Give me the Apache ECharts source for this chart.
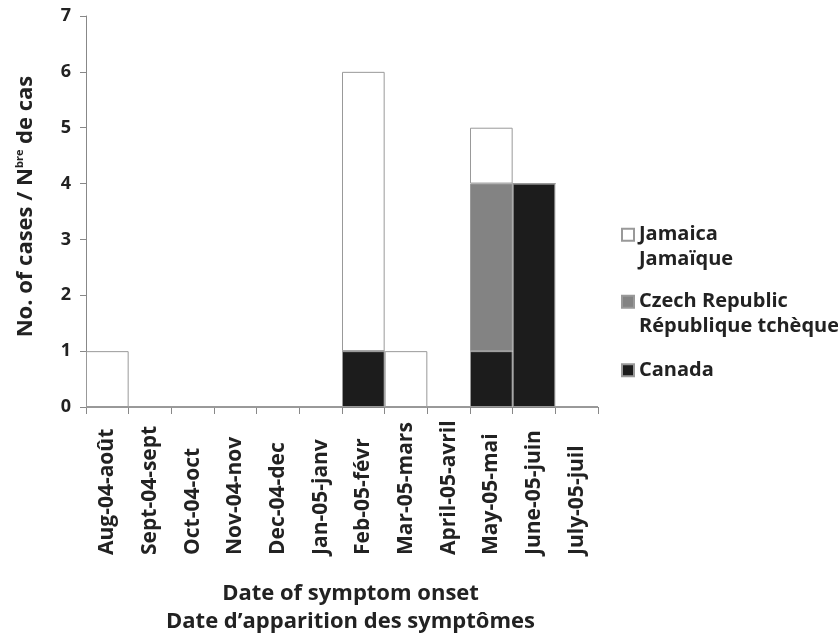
<!DOCTYPE html>
<html><head><meta charset="utf-8">
<script src="https://cdn.jsdelivr.net/npm/echarts@6/dist/echarts.min.js"></script>
<style>html,body{margin:0;padding:0;background:#fff}#c{width:838px;height:641px}</style>
</head><body><div id="c"></div>
<script>
const categories = ['Aug-04-août','Sept-04-sept','Oct-04-oct','Nov-04-nov','Dec-04-dec','Jan-05-janv','Feb-05-févr','Mar-05-mars','April-05-avril','May-05-mai','June-05-juin','July-05-juil'];
const canada  = [0,0,0,0,0,0,1,0,0,1,4,0];
const czech   = [0,0,0,0,0,0,0,0,0,3,0,0];
const jamaica = [1,0,0,0,0,0,5,1,0,1,0,0];
const yTicks = [0,7,1];

const FONT = 'Open Sans';
const legendNames = {
  'Jamaica': '\nJamaica\nJamaïque',
  'Czech Republic': '\nCzech Republic\nRépublique tchèque',
  'Canada': 'Canada'
};
function mkLegend(name, top){
  return {data:[name], orient:'vertical', left:621, top:top, padding:0, icon:'rect', itemWidth:12, itemHeight:12,
    formatter: n => legendNames[n],
    textStyle:{fontFamily:FONT, fontWeight:'bold', fontSize:20, color:'#222', lineHeight:24.5}};
}
const chart = echarts.init(document.getElementById('c'));
const barStyle = c => ({color:c, borderColor:'#999', borderWidth:1});
chart.setOption({
  animation:false,
  backgroundColor:'#fff',
  grid:{left:86, right:240, top:16, bottom:225},
  legend:[mkLegend('Jamaica', 198), mkLegend('Czech Republic', 265), mkLegend('Canada', 358)],
  xAxis:{type:'category', data:categories,
    axisLine:{lineStyle:{color:'#888'}},
    axisTick:{show:true, length:7, lineStyle:{color:'#888'}},
    axisLabel:{interval:0, rotate:90, align:'left', margin:148, fontFamily:FONT, fontWeight:'bold', fontSize:21, color:'#222'},
    name:'Date of symptom onset\nDate d’apparition des symptômes', nameLocation:'middle', nameGap:173,
    nameTextStyle:{fontFamily:FONT, fontWeight:'bold', fontSize:22, color:'#222', lineHeight:28, padding:[0,0,0,17]}},
  yAxis:{type:'value', min:yTicks[0], max:yTicks[1], interval:yTicks[2],
    axisLine:{show:true, lineStyle:{color:'#888'}},
    axisTick:{show:true, length:6, lineStyle:{color:'#888'}},
    splitLine:{show:false},
    axisLabel:{margin:15, fontFamily:FONT, fontWeight:'bold', fontSize:18, color:'#222'},
    name:'{a|No. of cases / N}{s|bre}{a| de cas}', nameLocation:'middle', nameGap:49,
    nameTextStyle:{padding:[0,0,0,10], rich:{
      a:{fontFamily:FONT, fontWeight:'bold', fontSize:22, color:'#222'},
      s:{fontFamily:FONT, fontWeight:'bold', fontSize:11, color:'#222', padding:[0,0,12,0]}
    }}},
  series:[
    {name:'Canada', type:'bar', stack:'a', data:canada, barCategoryGap:'0%', itemStyle:barStyle('#1c1c1c')},
    {name:'Czech Republic', type:'bar', stack:'a', data:czech, itemStyle:barStyle('#838383')},
    {name:'Jamaica', type:'bar', stack:'a', data:jamaica, itemStyle:barStyle('#ffffff')}
  ]
});
</script></body></html>
